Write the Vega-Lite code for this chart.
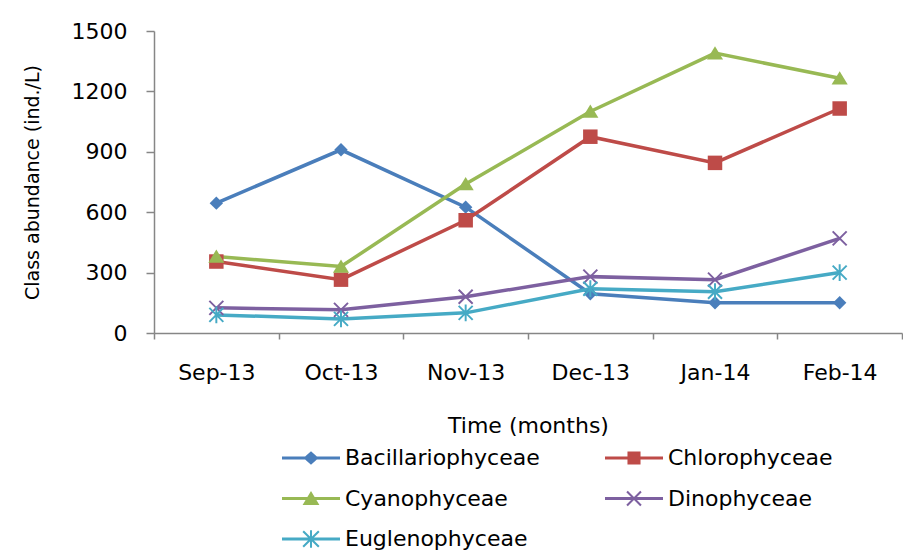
{
  "$schema": "https://vega.github.io/schema/vega-lite/v6.json",
  "width": 748,
  "height": 302,
  "autosize": {"type": "none"},
  "padding": {"left": 154, "top": 31, "right": 1, "bottom": 220},
  "background": "white",
  "config": {
    "view": {"stroke": null},
    "font": "DejaVu Sans",
    "axis": {
      "labelFont": "DejaVu Sans", "titleFont": "DejaVu Sans", "labelColor": "#000", "titleColor": "#000",
      "labelFontSize": 22, "titleFontSize": 22, "titleFontWeight": "normal",
      "domainColor": "#868686", "tickColor": "#868686", "domainWidth": 1.5, "tickWidth": 1.5,
      "grid": false
    }
  },
  "data": {"values": [
    {"month": "Sep-13", "cls": "Bacillariophyceae", "value": 645},
    {"month": "Oct-13", "cls": "Bacillariophyceae", "value": 910},
    {"month": "Nov-13", "cls": "Bacillariophyceae", "value": 625},
    {"month": "Dec-13", "cls": "Bacillariophyceae", "value": 195},
    {"month": "Jan-14", "cls": "Bacillariophyceae", "value": 150},
    {"month": "Feb-14", "cls": "Bacillariophyceae", "value": 150},
    {"month": "Sep-13", "cls": "Chlorophyceae", "value": 355},
    {"month": "Oct-13", "cls": "Chlorophyceae", "value": 265},
    {"month": "Nov-13", "cls": "Chlorophyceae", "value": 560},
    {"month": "Dec-13", "cls": "Chlorophyceae", "value": 975},
    {"month": "Jan-14", "cls": "Chlorophyceae", "value": 845},
    {"month": "Feb-14", "cls": "Chlorophyceae", "value": 1115},
    {"month": "Sep-13", "cls": "Cyanophyceae", "value": 380},
    {"month": "Oct-13", "cls": "Cyanophyceae", "value": 330},
    {"month": "Nov-13", "cls": "Cyanophyceae", "value": 740},
    {"month": "Dec-13", "cls": "Cyanophyceae", "value": 1100},
    {"month": "Jan-14", "cls": "Cyanophyceae", "value": 1390},
    {"month": "Feb-14", "cls": "Cyanophyceae", "value": 1265},
    {"month": "Sep-13", "cls": "Dinophyceae", "value": 125},
    {"month": "Oct-13", "cls": "Dinophyceae", "value": 115},
    {"month": "Nov-13", "cls": "Dinophyceae", "value": 180},
    {"month": "Dec-13", "cls": "Dinophyceae", "value": 280},
    {"month": "Jan-14", "cls": "Dinophyceae", "value": 265},
    {"month": "Feb-14", "cls": "Dinophyceae", "value": 470},
    {"month": "Sep-13", "cls": "Euglenophyceae", "value": 90},
    {"month": "Oct-13", "cls": "Euglenophyceae", "value": 70},
    {"month": "Nov-13", "cls": "Euglenophyceae", "value": 100},
    {"month": "Dec-13", "cls": "Euglenophyceae", "value": 220},
    {"month": "Jan-14", "cls": "Euglenophyceae", "value": 205},
    {"month": "Feb-14", "cls": "Euglenophyceae", "value": 300}
  ]},
  "encoding": {
    "x": {
      "field": "month", "type": "nominal",
      "sort": ["Sep-13", "Oct-13", "Nov-13", "Dec-13", "Jan-14", "Feb-14"],
      "scale": {"type": "band", "paddingInner": 0, "paddingOuter": 0},
      "axis": {"title": "Time (months)", "labelAngle": 0, "tickBand": "extent", "tickSize": 6, "labelPadding": 23, "titlePadding": 32}
    },
    "y": {
      "field": "value", "type": "quantitative",
      "scale": {"domain": [0, 1500], "nice": false},
      "axis": {"title": "Class abundance (ind./L)", "titleFontSize": 19, "format": "d", "values": [0, 300, 600, 900, 1200, 1500], "tickSize": 8, "labelPadding": 19, "titlePadding": 29}
    },
    "color": {
      "field": "cls", "type": "nominal",
      "scale": {"domain": ["Bacillariophyceae", "Chlorophyceae", "Cyanophyceae", "Dinophyceae", "Euglenophyceae"],
                "range": ["#4A7EBB", "#BE4B48", "#98B954", "#7D60A0", "#46AAC5"]},
      "legend": {
        "title": null, "orient": "none", "legendX": 128, "legendY": 398, "direction": "horizontal",
        "columns": 2, "columnPadding": 65, "rowPadding": 0.5, "padding": 0,
        "symbolSize": 3364, "symbolStrokeWidth": 0, "labelFont": "DejaVu Sans", "labelFontSize": 22, "labelColor": "#000", "labelOffset": 5,
        "labelLimit": 400
      }
    }
  },
  "layer": [
    {
      "mark": {"type": "point", "filled": true, "size": 0, "opacity": 1},
      "encoding": {
        "shape": {
          "field": "cls", "type": "nominal", "legend": {"title": null},
          "scale": {"domain": ["Bacillariophyceae", "Chlorophyceae", "Cyanophyceae", "Dinophyceae", "Euglenophyceae"],
                    "range": [
                      "M-1,-0.055H1V0.055H-1ZM0,-0.23L0.26,0L0,0.23L-0.26,0Z",
                      "M-1,-0.055H1V0.055H-1ZM-0.225,-0.225H0.225V0.225H-0.225Z",
                      "M-1,-0.055H1V0.055H-1ZM0,-0.26L0.29,0.22H-0.29Z",
                      "M-1,-0.055H1V0.055H-1ZM-0.215,-0.265L0.265,0.215L0.215,0.265L-0.265,-0.215ZM-0.265,0.215L0.215,-0.265L0.265,-0.215L-0.215,0.265Z",
                      "M-1,-0.055H1V0.055H-1ZM-0.245,-0.295L0.295,0.245L0.245,0.295L-0.295,-0.245ZM-0.295,0.245L0.245,-0.295L0.295,-0.245L-0.245,0.295ZM-0.035,-0.3H0.035V0.3H-0.035Z"
                    ]}
        }
      }
    },
    {
      "mark": {"type": "line", "strokeWidth": 3.5}
    },
    {
      "transform": [{"filter": "datum.cls === 'Bacillariophyceae'"}],
      "mark": {"type": "point", "filled": true, "opacity": 1, "size": 180, "shape": "M0,-1L1,0L0,1L-1,0Z"}
    },
    {
      "transform": [{"filter": "datum.cls === 'Chlorophyceae'"}],
      "mark": {"type": "point", "filled": true, "opacity": 1, "size": 210, "shape": "M-1,-1H1V1H-1Z"}
    },
    {
      "transform": [{"filter": "datum.cls === 'Cyanophyceae'"}],
      "mark": {"type": "point", "filled": true, "opacity": 1, "size": 196, "shape": "M0,-1L1.15,0.9H-1.15Z"}
    },
    {
      "transform": [{"filter": "datum.cls === 'Dinophyceae'"}],
      "mark": {"type": "point", "filled": true, "opacity": 1, "size": 196, "shape": "M-0.9,-1.1L1.1,0.9L0.9,1.1L-1.1,-0.9ZM-1.1,0.9L0.9,-1.1L1.1,-0.9L-0.9,1.1Z"}
    },
    {
      "transform": [{"filter": "datum.cls === 'Euglenophyceae'"}],
      "mark": {"type": "point", "filled": true, "opacity": 1, "size": 196, "shape": "M-0.9,-1.1L1.1,0.9L0.9,1.1L-1.1,-0.9ZM-1.1,0.9L0.9,-1.1L1.1,-0.9L-0.9,1.1ZM-0.14,-1.2H0.14V1.2H-0.14Z"}
    }
  ]
}
